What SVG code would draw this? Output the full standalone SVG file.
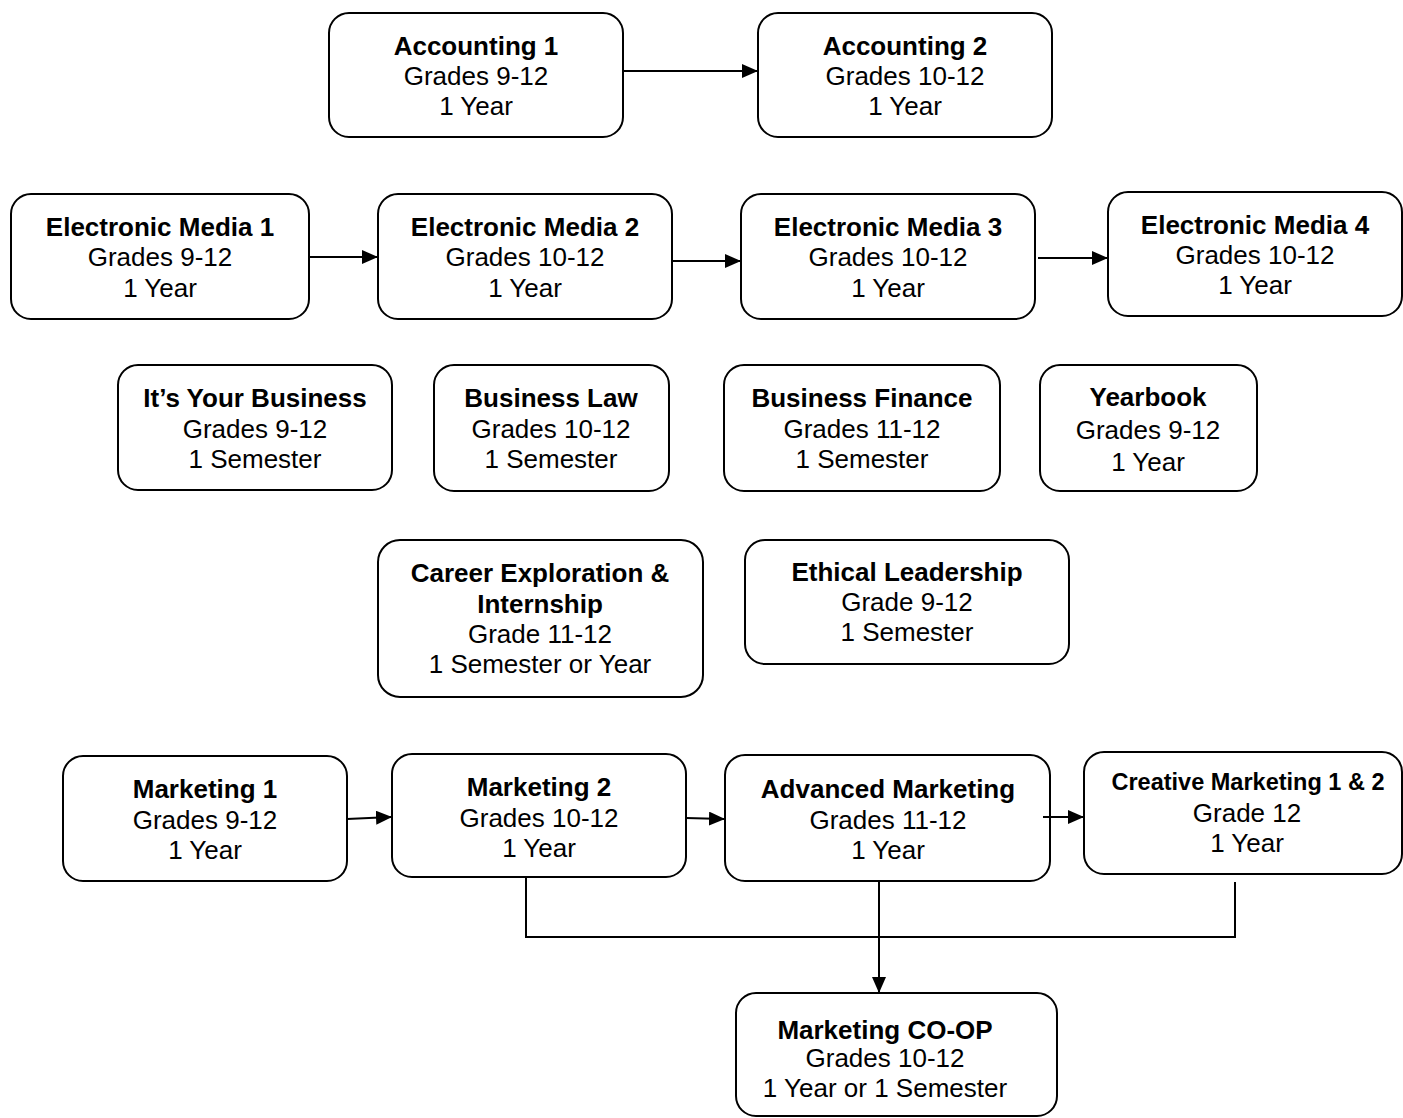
<svg xmlns="http://www.w3.org/2000/svg" width="1403" height="1118" viewBox="0 0 1403 1118">
<style>
.box{fill:#fff;stroke:#000;stroke-width:2}
.t{font-family:"Liberation Sans",Arial,sans-serif;font-size:26px;text-anchor:middle;fill:#000}
.b{font-weight:bold}
.c{fill:none;stroke:#000;stroke-width:2}
</style>
<defs>
<marker id="ah" markerUnits="userSpaceOnUse" markerWidth="16" markerHeight="14" refX="15" refY="7" orient="auto">
<path d="M0,0 L16,7 L0,14 Z" fill="#000"/>
</marker>
</defs>
<rect width="1403" height="1118" fill="#fff"/>
<g id="acc1"><rect class="box" x="329" y="13" width="294" height="124" rx="20"/>
<text class="t b" x="476" y="55">Accounting 1</text><text class="t" x="476" y="85">Grades 9-12</text><text class="t" x="476" y="115">1 Year</text></g>
<g id="acc2"><rect class="box" x="758" y="13" width="294" height="124" rx="20"/>
<text class="t b" x="905" y="55">Accounting 2</text><text class="t" x="905" y="85">Grades 10-12</text><text class="t" x="905" y="115">1 Year</text></g>
<g id="em1"><rect class="box" x="11" y="194" width="298" height="125" rx="20"/>
<text class="t b" x="160" y="236">Electronic Media 1</text><text class="t" x="160" y="266">Grades 9-12</text><text class="t" x="160" y="297">1 Year</text></g>
<g id="em2"><rect class="box" x="378" y="194" width="294" height="125" rx="20"/>
<text class="t b" x="525" y="236">Electronic Media 2</text><text class="t" x="525" y="266">Grades 10-12</text><text class="t" x="525" y="297">1 Year</text></g>
<g id="em3"><rect class="box" x="741" y="194" width="294" height="125" rx="20"/>
<text class="t b" x="888" y="236">Electronic Media 3</text><text class="t" x="888" y="266">Grades 10-12</text><text class="t" x="888" y="297">1 Year</text></g>
<g id="em4"><rect class="box" x="1108" y="192" width="294" height="124" rx="20"/>
<text class="t b" x="1255" y="234">Electronic Media 4</text><text class="t" x="1255" y="264">Grades 10-12</text><text class="t" x="1255" y="294">1 Year</text></g>
<g id="iyb"><rect class="box" x="118" y="365" width="274" height="125" rx="20"/>
<text class="t b" x="255" y="407">It’s Your Business</text><text class="t" x="255" y="438">Grades 9-12</text><text class="t" x="255" y="468">1 Semester</text></g>
<g id="blaw"><rect class="box" x="434" y="365" width="235" height="126" rx="20"/>
<text class="t b" x="551" y="407">Business Law</text><text class="t" x="551" y="438">Grades 10-12</text><text class="t" x="551" y="468">1 Semester</text></g>
<g id="bfin"><rect class="box" x="724" y="365" width="276" height="126" rx="20"/>
<text class="t b" x="862" y="407">Business Finance</text><text class="t" x="862" y="438">Grades 11-12</text><text class="t" x="862" y="468">1 Semester</text></g>
<g id="yearbook"><rect class="box" x="1040" y="365" width="217" height="126" rx="20"/>
<text class="t b" x="1148" y="406">Yearbook</text><text class="t" x="1148" y="439">Grades 9-12</text><text class="t" x="1148" y="471">1 Year</text></g>
<g id="career"><rect class="box" x="378" y="540" width="325" height="157" rx="22"/>
<text class="t b" x="540" y="582">Career Exploration &amp;</text><text class="t b" x="540" y="613">Internship</text><text class="t" x="540" y="643">Grade 11-12</text><text class="t" x="540" y="673">1 Semester or Year</text></g>
<g id="ethical"><rect class="box" x="745" y="540" width="324" height="124" rx="20"/>
<text class="t b" x="907" y="581">Ethical Leadership</text><text class="t" x="907" y="611">Grade 9-12</text><text class="t" x="907" y="641">1 Semester</text></g>
<g id="mk1"><rect class="box" x="63" y="756" width="284" height="125" rx="20"/>
<text class="t b" x="205" y="798">Marketing 1</text><text class="t" x="205" y="829">Grades 9-12</text><text class="t" x="205" y="859">1 Year</text></g>
<g id="mk2"><rect class="box" x="392" y="754" width="294" height="123" rx="20"/>
<text class="t b" x="539" y="796">Marketing 2</text><text class="t" x="539" y="827">Grades 10-12</text><text class="t" x="539" y="857">1 Year</text></g>
<g id="advmk"><rect class="box" x="725" y="755" width="325" height="126" rx="20"/>
<text class="t b" x="888" y="798">Advanced Marketing</text><text class="t" x="888" y="829">Grades 11-12</text><text class="t" x="888" y="859">1 Year</text></g>
<g id="creative"><rect class="box" x="1084" y="752" width="318" height="122" rx="20"/>
<text class="t b" x="1248" y="790" style="font-size:23.5px">Creative Marketing 1 &amp; 2</text><text class="t" x="1247" y="822">Grade 12</text><text class="t" x="1247" y="852">1 Year</text></g>
<g id="coop"><rect class="box" x="736" y="993" width="321" height="123" rx="20"/>
<text class="t b" x="885" y="1039">Marketing CO-OP</text><text class="t" x="885" y="1067">Grades 10-12</text><text class="t" x="885" y="1097">1 Year or 1 Semester</text></g>
<g id="connectors">
<line class="c" x1="623" y1="71" x2="757" y2="71" marker-end="url(#ah)"/>
<line class="c" x1="309" y1="257" x2="377" y2="257" marker-end="url(#ah)"/>
<line class="c" x1="672" y1="261" x2="740" y2="261" marker-end="url(#ah)"/>
<line class="c" x1="1038" y1="258" x2="1107" y2="258" marker-end="url(#ah)"/>
<line class="c" x1="347" y1="819" x2="391" y2="817" marker-end="url(#ah)"/>
<line class="c" x1="686" y1="818" x2="724" y2="819" marker-end="url(#ah)"/>
<line class="c" x1="1043" y1="817" x2="1083" y2="817" marker-end="url(#ah)"/>
<path class="c" d="M526,877 V937 H1235 V882"/>
<line class="c" x1="879" y1="881" x2="879" y2="992" marker-end="url(#ah)"/>
</g>
</svg>
